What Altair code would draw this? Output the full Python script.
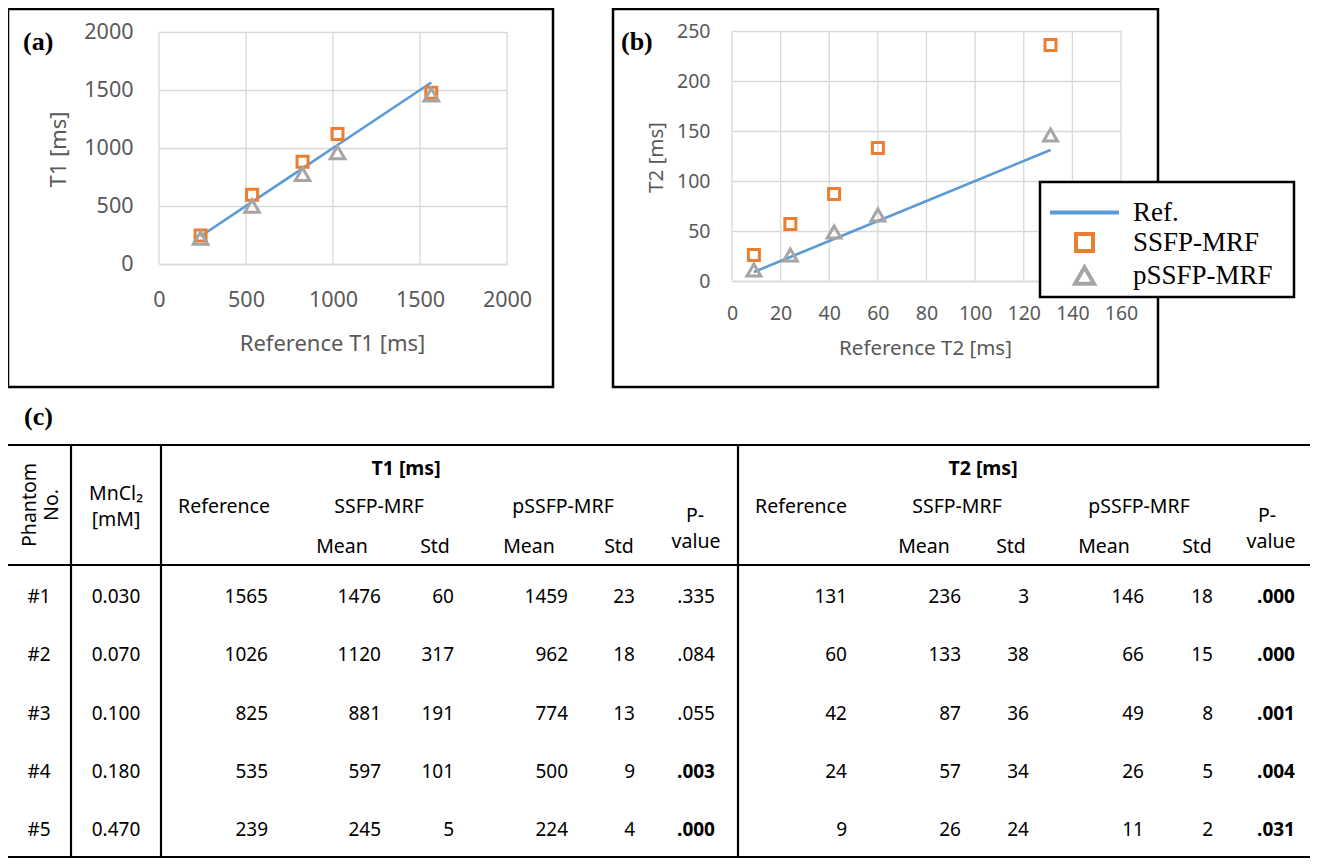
import altair as alt
import pandas as pd

# ---------------- data ----------------
phantom_no = ["#1", "#2", "#3", "#4", "#5"]
mncl2_mM = ["0.030", "0.070", "0.100", "0.180", "0.470"]

t1_reference = [1565, 1026, 825, 535, 239]
t1_ssfp_mean = [1476, 1120, 881, 597, 245]
t1_ssfp_std = [60, 317, 191, 101, 5]
t1_pssfp_mean = [1459, 962, 774, 500, 224]
t1_pssfp_std = [23, 18, 13, 9, 4]
t1_p_value = [".335", ".084", ".055", ".003", ".000"]

t2_reference = [131, 60, 42, 24, 9]
t2_ssfp_mean = [236, 133, 87, 57, 26]
t2_ssfp_std = [3, 38, 36, 34, 24]
t2_pssfp_mean = [146, 66, 49, 26, 11]
t2_pssfp_std = [18, 15, 8, 5, 2]
t2_p_value = [".000", ".000", ".001", ".004", ".031"]

methods = ["Ref.", "SSFP-MRF", "pSSFP-MRF"]
t1_ticks = [0, 500, 1000, 1500, 2000]
t2_x_ticks = [0, 20, 40, 60, 80, 100, 120, 140, 160]
t2_y_ticks = [0, 50, 100, 150, 200, 250]

panel_tags = ["(a)", "(b)", "(c)"]
t1_axis_titles = ["Reference T1 [ms]", "T1 [ms]"]
t2_axis_titles = ["Reference T2 [ms]", "T2 [ms]"]
left_heads = ["Phantom", "No.", "MnCl\u2082", "[mM]"]
group_heads = ["T1  [ms]", "T2  [ms]"]
method_heads = ["Reference", "SSFP-MRF", "pSSFP-MRF"]
stat_heads = ["Mean", "Std", "Mean", "Std"]
p_heads = ["P-", "value"]

# ---------------- style / layout ----------------
W, H = 1302, 851
BLUE, ORANGE, GRAY = "#5B9BD5", "#ED7D31", "#A5A5A5"
GRID, AXTXT = "#D9D9D9", "#595959"
SANS, SERIF = "Noto Sans", "Liberation Serif"

one = pd.DataFrame({"k": [0]})


def label(text, x, y, **kw):
    base = dict(font=SANS, fontSize=19.5, color="black", align="center", baseline="middle")
    base.update(kw)
    return alt.Chart(one).mark_text(**base).encode(
        x=alt.value(x), y=alt.value(y), text=alt.value(text))


def hline(x1, x2, y, w=2.2):
    return alt.Chart(one).mark_rule(color="black", strokeWidth=w).encode(
        x=alt.value(x1), x2=alt.value(x2), y=alt.value(y))


def vline(x, y1, y2, w=2.2):
    return alt.Chart(one).mark_rule(color="black", strokeWidth=w).encode(
        x=alt.value(x), y=alt.value(y1), y2=alt.value(y2))


def box(x1, x2, y1, y2, fill="transparent", w=2.5):
    return alt.Chart(one).mark_rect(fill=fill, stroke="black", strokeWidth=w).encode(
        x=alt.value(x1), x2=alt.value(x2), y=alt.value(y1), y2=alt.value(y2))


# legend: the Ref. sample is a wide horizontal stroke path
color_scale = alt.Scale(domain=methods, range=[BLUE, ORANGE, GRAY])
shape_scale = alt.Scale(domain=methods, range=["M-3.45,0H3.45", "square", "triangle-up"])
size_scale = alt.Scale(type="ordinal", domain=methods, range=[400, 289, 361])

legend = alt.Legend(title=None, orient="none", legendX=1063, legendY=191,
                    labelFont=SERIF, labelFontSize=27, labelColor="black",
                    symbolStrokeWidth=4, padding=0, rowPadding=0, labelOffset=35)


def long_df(ref, ssfp, pssfp):
    rows = []
    for r, a, b in zip(ref, ssfp, pssfp):
        rows.append({"ref": r, "val": r, "method": methods[0]})
        rows.append({"ref": r, "val": a, "method": methods[1]})
        rows.append({"ref": r, "val": b, "method": methods[2]})
    return pd.DataFrame(rows)


def panel(df, xdom, xticks, xrange, ydom, yticks, yrange, titles, lab_fs, tit_fs,
          xlab_pad, ylab_pad, xt_pos, yt_pos, sq_size, tri_size):
    common = dict(ticks=False, tickSize=0, format="d",
                  labelFont=SANS, labelFontSize=lab_fs, labelColor=AXTXT,
                  labelFlush=False, labelOverlap=False,
                  titleFont=SANS, titleFontSize=tit_fs, titleColor=AXTXT,
                  titleFontWeight="normal", titleAlign="center", titleBaseline="middle")
    xaxis = alt.Axis(title=titles[0], values=xticks, orient="bottom", grid=False,
                     offset=yrange[0] - H, domain=True, domainColor=GRID, domainWidth=1.3,
                     labelPadding=xlab_pad, labelBaseline="middle",
                     titleX=xt_pos[0], titleY=xt_pos[1] - yrange[0], **common)
    yaxis = alt.Axis(title=titles[1], values=yticks, orient="left", grid=True,
                     gridColor=GRID, gridWidth=1.3,
                     offset=-xrange[0], domain=False, labelPadding=ylab_pad,
                     labelBaseline="middle", titleAngle=270,
                     titleX=yt_pos[0] - xrange[0], titleY=yt_pos[1], **common)
    x = alt.X("ref:Q", scale=alt.Scale(domain=xdom, range=xrange, nice=False, zero=False), axis=xaxis)
    y = alt.Y("val:Q", scale=alt.Scale(domain=ydom, range=yrange, nice=False, zero=False), axis=yaxis)
    color = alt.Color("method:N", scale=color_scale, legend=legend)
    shape = alt.Shape("method:N", scale=shape_scale, legend=legend)
    # vertical gridlines at the x tick values, drawn through the panel scales
    vgrid = alt.Chart(pd.DataFrame({"ref": xticks})).mark_rule(
        color=GRID, strokeWidth=1.3).encode(x=x, y=alt.datum(ydom[0]), y2=alt.datum(ydom[1]))
    base = alt.Chart(df)
    line = base.transform_filter(alt.datum.method == methods[0]).mark_line(
        strokeWidth=2.6).encode(x=x, y=y, color=color)
    sq = base.transform_filter(alt.datum.method == methods[1]).mark_point(
        filled=False, size=sq_size, strokeWidth=3, opacity=1).encode(x=x, y=y, color=color, shape=shape)
    tri = base.transform_filter(alt.datum.method == methods[2]).mark_point(
        filled=False, size=tri_size, strokeWidth=3, opacity=1).encode(x=x, y=y, color=color, shape=shape)
    return alt.layer(vgrid, line, sq, tri)


panel_a = panel(long_df(t1_reference, t1_ssfp_mean, t1_pssfp_mean),
                [0, 2000], t1_ticks, [151, 499], [0, 2000], t1_ticks, [256, 24],
                t1_axis_titles, 21.5, 22, 36, 26, (324, 335), (50, 141), 121, 210)
panel_b = panel(long_df(t2_reference, t2_ssfp_mean, t2_pssfp_mean),
                [0, 160], t2_x_ticks, [724, 1113], [0, 250], t2_y_ticks, [273, 23],
                t2_axis_titles, 19.5, 20.5, 32, 22, (917, 340), (648, 149), 121, 190)

legend_df = pd.DataFrame({"method": methods})
legend_layer = alt.Chart(legend_df).mark_point(filled=False, opacity=1, strokeWidth=4).encode(
    x=alt.value(-60), y=alt.value(-60),
    color=alt.Color("method:N", scale=color_scale, legend=legend),
    shape=alt.Shape("method:N", scale=shape_scale, legend=legend),
    size=alt.Size("method:N", scale=size_scale, legend=legend),
)

# ---------------- table ----------------
tbl = pd.DataFrame({
    "row": [1, 2, 3, 4, 5],
    "phantom": phantom_no, "mncl2": mncl2_mM,
    "t1_ref": t1_reference, "t1_sm": t1_ssfp_mean, "t1_ss": t1_ssfp_std,
    "t1_pm": t1_pssfp_mean, "t1_ps": t1_pssfp_std, "t1_p": t1_p_value,
    "t1_sig": [float(p) < 0.05 for p in t1_p_value],
    "t2_ref": t2_reference, "t2_sm": t2_ssfp_mean, "t2_ss": t2_ssfp_std,
    "t2_pm": t2_pssfp_mean, "t2_ps": t2_pssfp_std, "t2_p": t2_p_value,
    "t2_sig": [float(p) < 0.05 for p in t2_p_value],
})
row_y = alt.Y("row:Q", scale=alt.Scale(domain=[1, 5], range=[589, 822]), axis=None)


def col(field, x, align="right", **kw):
    return alt.Chart(tbl).mark_text(font=SANS, fontSize=19, color="black", align=align,
                                    baseline="middle", **kw).encode(
        x=alt.value(x), y=row_y, text=alt.Text(f"{field}:N"))


def pcol(prefix, x):
    sig = alt.FieldEqualPredicate(field=f"{prefix}_sig", equal=True)
    nsig = alt.FieldEqualPredicate(field=f"{prefix}_sig", equal=False)
    bold = alt.Chart(tbl).transform_filter(sig).mark_text(
        font=SANS, fontSize=19, fontWeight="bold", color="black", align="right",
        baseline="middle").encode(x=alt.value(x), y=row_y, text=alt.Text(f"{prefix}_p:N"))
    norm = alt.Chart(tbl).transform_filter(nsig).mark_text(
        font=SANS, fontSize=19, color="black", align="right",
        baseline="middle").encode(x=alt.value(x), y=row_y, text=alt.Text(f"{prefix}_p:N"))
    return [bold, norm]


body = [col("phantom", 31, align="center"), col("mncl2", 108, align="center")]
t1_right = [260, 373, 446, 560, 627, 707]
t2_right = [839, 953, 1021, 1136, 1205, 1287]
for prefix, xs in (("t1", t1_right), ("t2", t2_right)):
    for f, xx in zip(["ref", "sm", "ss", "pm", "ps"], xs[:5]):
        body.append(col(f"{prefix}_{f}", xx))
    body.extend(pcol(prefix, xs[5]))
table_body = alt.layer(*body)

headers = [
    label(left_heads[0], 22, 497, angle=270),
    label(left_heads[1], 44, 497, angle=270),
    label(left_heads[2], 108, 486),
    label(left_heads[3], 108, 512),
]
group_x = [398, 975]
method_x = [[216, 371, 555], [793, 949, 1131]]
stat_x = [[334, 427, 521, 611], [916, 1003, 1096, 1189]]
p_x = [[687, 688], [1259, 1263]]
for g in range(2):
    headers.append(label(group_heads[g], group_x[g], 461, fontWeight="bold"))
    for t, xx in zip(method_heads, method_x[g]):
        headers.append(label(t, xx, 499))
    for t, xx in zip(stat_heads, stat_x[g]):
        headers.append(label(t, xx, 539))
    headers.append(label(p_heads[0], p_x[g][0], 508))
    headers.append(label(p_heads[1], p_x[g][1], 534))

rules = [
    hline(0, W, 437), hline(0, W, 557), hline(0, W, 849),
    vline(63, 437, 849), vline(153, 437, 849), vline(730, 437, 849),
]

decor = [
    box(0, 545, 1, 379), box(605, 1150, 1, 379),
    label(panel_tags[0], 15, 34, font=SERIF, fontSize=26, fontWeight="bold", align="left"),
    label(panel_tags[1], 613, 34, font=SERIF, fontSize=26, fontWeight="bold", align="left"),
    label(panel_tags[2], 16, 409, font=SERIF, fontSize=26, fontWeight="bold", align="left"),
]

chart = alt.layer(
    *decor, panel_a, panel_b,
    box(1032, 1286, 174, 289, fill="white"),
    legend_layer, table_body, *headers, *rules,
).resolve_scale(x="independent", y="independent").properties(
    width=W, height=H, padding=0, autosize=alt.AutoSizeParams(type="none"),
).configure_view(stroke=None)

chart.save("out.html", embed_options={"renderer": "svg", "actions": False})
